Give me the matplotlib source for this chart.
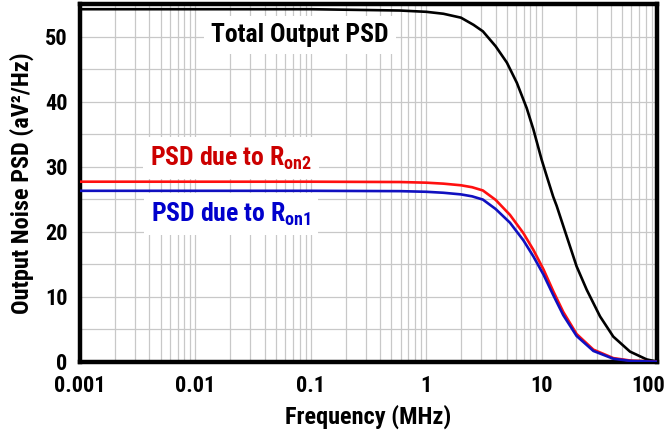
import matplotlib
matplotlib.use("Agg")
import matplotlib.pyplot as plt
import matplotlib.transforms as mtransforms
from matplotlib import font_manager as fm
from matplotlib.ticker import LogLocator, MultipleLocator, FixedLocator

# ---- data ----
freq_total = [0.001, 0.01, 0.1, 0.59, 1.0, 1.41, 2.0, 2.57, 3.1, 4.0, 5.0, 6.1, 7.43,
              8.5, 10.0, 11.1, 12.6, 13.5, 16.5, 20.1, 24.6, 32.1, 41.8, 58.3, 81.3, 100.0]
psd_total = [54.2, 54.2, 54.2, 54.0, 53.8, 53.5, 52.9, 51.8, 50.8, 48.5, 46.0, 42.9, 39.0,
             35.7, 31.1, 28.5, 25.4, 24.0, 19.3, 14.7, 11.1, 7.0, 3.9, 1.6, 0.4, 0.05]

freq_ron = [0.001, 0.01, 0.1, 0.59, 1.0, 1.41, 2.0, 2.5, 3.1, 4.0, 5.32, 6.95, 8.5, 10.4,
            12.6, 15.4, 20.1, 28.1, 41.8, 60.0, 100.0]
psd_ron2 = [27.7, 27.7, 27.7, 27.65, 27.55, 27.4, 27.15, 26.85, 26.35, 24.9, 22.6, 19.8,
            17.2, 14.2, 10.9, 7.7, 4.3, 1.9, 0.6, 0.2, 0.05]
psd_ron1 = [26.3, 26.3, 26.3, 26.25, 26.15, 26.0, 25.75, 25.45, 24.95, 23.5, 21.4, 18.7,
            16.2, 13.4, 10.3, 7.2, 4.0, 1.7, 0.5, 0.15, 0.05]

xticks = [0.001, 0.01, 0.1, 1, 10, 100]
xtick_labels = ["0.001", "0.01", "0.1", "1", "10", "100"]
yticks = [0, 10, 20, 30, 40, 50]

# ---- fonts: prefer a narrow bold sans (Arial Narrow look) ----
names = {f.name for f in fm.fontManager.ttflist}
narrow = None
for pref in ["Roboto Condensed", "Liberation Sans Narrow", "Arial Narrow",
             "DejaVu Sans Condensed", "Open Sans Condensed", "Noto Sans Condensed"]:
    if pref in names:
        narrow = pref
        break
if narrow is None:
    main_font, scale = "Liberation Sans", 0.82
else:
    main_font, scale = narrow, 1.0

plt.rcParams["font.family"] = [main_font, "DejaVu Sans"]
plt.rcParams["font.weight"] = "bold"
plt.rcParams["mathtext.fontset"] = "custom"
plt.rcParams["mathtext.rm"] = main_font + ":bold"
plt.rcParams["mathtext.it"] = main_font + ":bold"
plt.rcParams["mathtext.bf"] = main_font + ":bold"

fig = plt.figure(figsize=(6.64, 4.41), dpi=100)
ax = fig.add_axes([80 / 664, 1 - 362 / 441, 577 / 664, 358 / 441])

ax.plot(freq_total, psd_total, color="black", lw=1.9, zorder=3)
ax.plot(freq_ron, psd_ron2, color="#ff1010", lw=1.9, zorder=3)
ax.plot(freq_ron, psd_ron1, color="#1010c0", lw=1.9, zorder=3)

ax.set_xscale("log")
ax.set_xlim(0.001, 100)
ax.set_ylim(0, 55)
ax.xaxis.set_major_locator(FixedLocator(xticks))
ax.xaxis.set_minor_locator(LogLocator(base=10, subs=range(2, 10), numticks=20))
ax.set_xticks(xticks)
ax.set_xticklabels(xtick_labels)
ax.set_yticks(yticks)
ax.yaxis.set_minor_locator(MultipleLocator(5))
ax.tick_params(which="both", length=0)
ax.tick_params(axis="x", labelsize=16 * scale, pad=9)
ax.tick_params(axis="y", labelsize=16 * scale, pad=9)
ax.grid(True, which="both", color="#c8c8c8", lw=0.9, zorder=0)
ax.set_axisbelow(True)
for s in ax.spines.values():
    s.set_linewidth(3.2)
    s.set_color("black")

# the last tick label sits a little left of its tick, as in the reference
last = ax.get_xticklabels()[-1]
last.set_transform(last.get_transform() +
                   mtransforms.ScaledTranslation(-9 / 100, 0, fig.dpi_scale_trans))

ax.set_xlabel("Frequency (MHz)", fontsize=17.5 * scale, fontweight="bold", labelpad=6)
ax.set_ylabel("Output Noise PSD (aV²/Hz)", fontsize=17.5 * scale, fontweight="bold", labelpad=8)

box = dict(facecolor="white", edgecolor="none", pad=5)
fs = 18.5 * scale
ax.text(0.0805, 49.1, "Total Output PSD", fontsize=fs, fontweight="bold",
        ha="center", va="baseline", color="black", bbox=box, zorder=4)
ax.text(0.0204, 30.2, r"PSD due to R$_{\mathrm{on2}}$", fontsize=fs, fontweight="bold",
        ha="center", va="baseline", color="#cc0000", bbox=box, zorder=2)
ax.text(0.0204, 21.6, r"PSD due to R$_{\mathrm{on1}}$", fontsize=fs, fontweight="bold",
        ha="center", va="baseline", color="#0000cc", bbox=box, zorder=2)

fig.savefig("out.png", dpi=100)
